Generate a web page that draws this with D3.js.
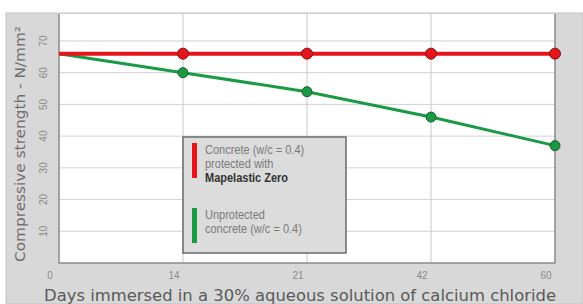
<!DOCTYPE html>
<html>
<head>
<meta charset="utf-8">
<script src="https://cdn.jsdelivr.net/npm/d3@7"></script>
<style>
  body { margin: 0; background: #fff; }
  svg { display: block; }
</style>
</head>
<body>
<svg id="chart" width="583" height="304"></svg>
<script>
// data
var days = ["0", "14", "21", "42", "60"];
var protectedVals = [66, 66, 66, 66, 66];
var unprotectedVals = [66, 60, 54, 46, 37];
var yTicks = [10, 20, 30, 40, 50, 60, 70];

var svg = d3.select("#chart");
var W = 583, H = 304;
var m = { left: 59, right: 555, top: 14, bottom: 263 };

// gray frame
svg.append("rect")
    .attr("x", 6).attr("y", 13)
    .attr("width", W - 6).attr("height", H - 13)
    .attr("fill", "#d8d8d8")
    .attr("stroke", "#c4c4c4");

// white plot area
svg.append("rect")
    .attr("x", m.left).attr("y", m.top)
    .attr("width", m.right - m.left).attr("height", m.bottom - m.top)
    .attr("fill", "#fff");

var x = d3.scalePoint().domain(days).range([m.left, m.right]);
var y = d3.scaleLinear().domain([0, 78.5]).range([m.bottom, m.top]);

// grid
svg.append("g").selectAll("line.h")
    .data(yTicks).enter().append("line")
    .attr("x1", m.left).attr("x2", m.right)
    .attr("y1", function(d) { return y(d); })
    .attr("y2", function(d) { return y(d); })
    .attr("stroke", "#d2d2d2").attr("stroke-width", 1);

svg.append("g").selectAll("line.v")
    .data(days.slice(1, 4)).enter().append("line")
    .attr("x1", function(d) { return x(d); })
    .attr("x2", function(d) { return x(d); })
    .attr("y1", m.top).attr("y2", m.bottom)
    .attr("stroke", "#c8c8c8").attr("stroke-width", 1);

// plot border left / bottom / right
svg.append("path")
    .attr("d", "M" + m.left + "," + m.top + "V" + m.bottom + "H" + m.right + "V" + m.top)
    .attr("fill", "none").attr("stroke", "#8a8a8a").attr("stroke-width", 1.5);

// y tick labels (rotated)
svg.append("g").selectAll("text")
    .data(yTicks).enter().append("text")
    .attr("transform", function(d) { return "translate(47," + y(d) + ") rotate(-90)"; })
    .attr("text-anchor", "middle")
    .attr("font-family", "Liberation Sans Narrow, Liberation Sans, sans-serif")
    .attr("font-size", 10)
    .attr("fill", "#8a8a8a")
    .text(function(d) { return d; });

// x tick labels
svg.append("g").selectAll("text")
    .data(days).enter().append("text")
    .attr("x", function(d) { return x(d) - 9; })
    .attr("y", 279)
    .attr("text-anchor", "middle")
    .attr("font-family", "Liberation Sans Narrow, Liberation Sans, sans-serif")
    .attr("font-size", 10)
    .attr("fill", "#8a8a8a")
    .text(function(d) { return d; });

// axis titles
svg.append("text")
    .attr("transform", "translate(25,144) rotate(-90)")
    .attr("text-anchor", "middle")
    .attr("font-family", "DejaVu Sans, sans-serif")
    .attr("font-size", 13.5)
    .attr("fill", "#6e6e6e")
    .attr("textLength", 236)
    .attr("lengthAdjust", "spacingAndGlyphs")
    .text("Compressive strength - N/mm²");

svg.append("text")
    .attr("x", 300).attr("y", 301)
    .attr("text-anchor", "middle")
    .attr("font-family", "DejaVu Sans, sans-serif")
    .attr("font-size", 15)
    .attr("fill", "#5a5a5a")
    .attr("textLength", 512)
    .attr("lengthAdjust", "spacingAndGlyphs")
    .text("Days immersed in a 30% aqueous solution of calcium chloride");

// lines
var line = d3.line()
    .x(function(d, i) { return x(days[i]); })
    .y(function(d) { return y(d); });

svg.append("path").datum(unprotectedVals)
    .attr("d", line).attr("fill", "none")
    .attr("stroke", "#1a9a45").attr("stroke-width", 3);

svg.append("path").datum(protectedVals)
    .attr("d", line).attr("fill", "none")
    .attr("stroke", "#e8141c").attr("stroke-width", 4);

svg.append("g").selectAll("circle")
    .data(unprotectedVals.slice(1)).enter().append("circle")
    .attr("cx", function(d, i) { return x(days[i + 1]); })
    .attr("cy", function(d) { return y(d); })
    .attr("r", 5)
    .attr("fill", "#1a9a45").attr("stroke", "#1f5a2f").attr("stroke-width", 1);

svg.append("g").selectAll("circle")
    .data(protectedVals.slice(1)).enter().append("circle")
    .attr("cx", function(d, i) { return x(days[i + 1]); })
    .attr("cy", function(d) { return y(d); })
    .attr("r", 5.5)
    .attr("fill", "#e8141c").attr("stroke", "#7a1a1a").attr("stroke-width", 1);

// legend
var lg = svg.append("g").attr("transform", "translate(183,137)");
lg.append("rect")
    .attr("width", 163).attr("height", 116)
    .attr("fill", "#dcdcdc").attr("stroke", "#6a6a6a").attr("stroke-width", 1.5);
lg.append("rect").attr("x", 9).attr("y", 6).attr("width", 5).attr("height", 35).attr("fill", "#e8141c");
lg.append("rect").attr("x", 9).attr("y", 71).attr("width", 5).attr("height", 35).attr("fill", "#1a9a45");

var legendLines = [
    { t: "Concrete (w/c = 0.4)", yy: 17, bold: false },
    { t: "protected with", yy: 31, bold: false },
    { t: "Mapelastic Zero", yy: 45, bold: true },
    { t: "Unprotected", yy: 82, bold: false },
    { t: "concrete (w/c = 0.4)", yy: 96, bold: false }
];
lg.selectAll("text.l").data(legendLines).enter().append("text")
    .attr("x", 22).attr("y", function(d) { return d.yy; })
    .attr("font-family", "Liberation Sans Narrow, Liberation Sans, sans-serif")
    .attr("font-size", 12.5)
    .attr("font-weight", function(d) { return d.bold ? "bold" : "normal"; })
    .attr("fill", function(d) { return d.bold ? "#333" : "#7a7a7a"; })
    .attr("transform", function(d) { return "translate(22," + d.yy + ") scale(0.88,1) translate(-22," + (-d.yy) + ")"; })
    .text(function(d) { return d.t; });
</script>
</body>
</html>
